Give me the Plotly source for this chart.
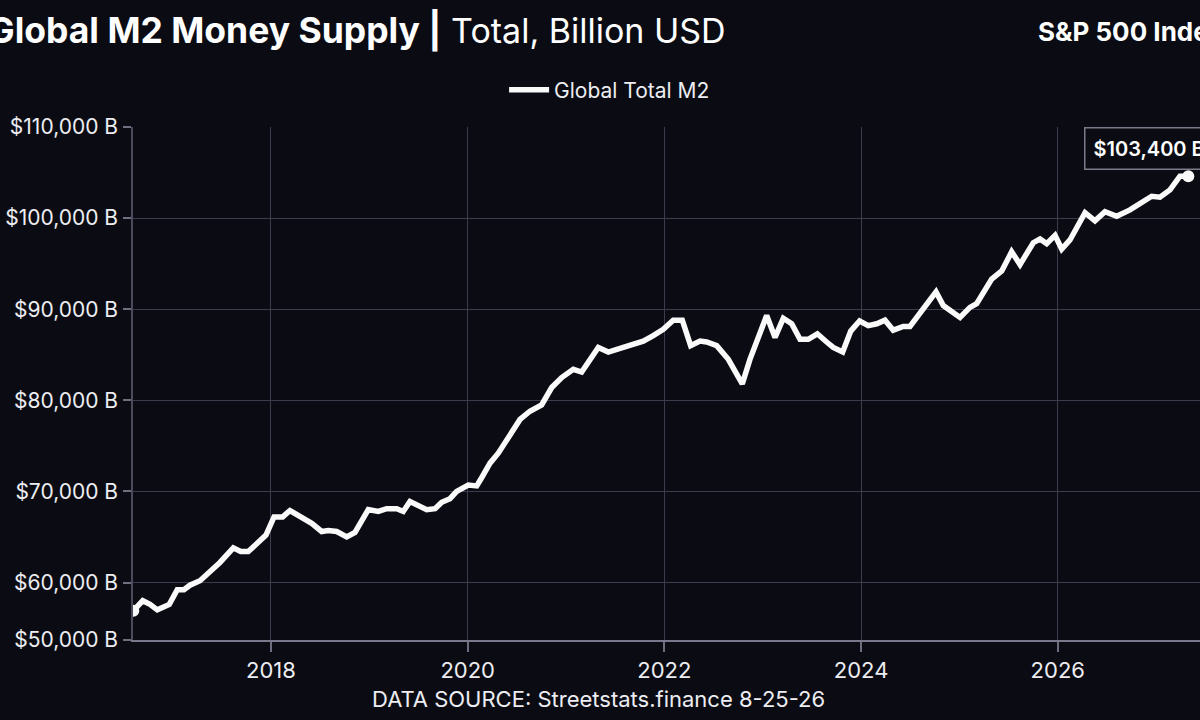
import plotly.graph_objects as go

# monthly readings, x as decimal years
years = [
    2016.600, 2016.696, 2016.770, 2016.844, 2016.966, 2017.047, 2017.115, 2017.176, 2017.278, 2017.380,
    2017.481, 2017.617, 2017.692, 2017.769, 2017.855, 2017.949, 2018.031, 2018.119, 2018.193, 2018.295,
    2018.414, 2018.516, 2018.583, 2018.668, 2018.770, 2018.854, 2018.989, 2019.091, 2019.176, 2019.278,
    2019.345, 2019.413, 2019.498, 2019.583, 2019.668, 2019.736, 2019.820, 2019.888, 2020.006, 2020.092,
    2020.142, 2020.227, 2020.311, 2020.413, 2020.532, 2020.633, 2020.752, 2020.854, 2020.956, 2021.074,
    2021.159, 2021.328, 2021.430, 2021.582, 2021.701, 2021.785, 2021.887, 2021.989, 2022.090, 2022.182,
    2022.267, 2022.362, 2022.430, 2022.532, 2022.650, 2022.718, 2022.792, 2022.870, 2023.040, 2023.125,
    2023.209, 2023.294, 2023.379, 2023.463, 2023.555, 2023.650, 2023.717, 2023.813, 2023.895, 2023.985,
    2024.073, 2024.159, 2024.243, 2024.327, 2024.429, 2024.497, 2024.632, 2024.762, 2024.836, 2025.006,
    2025.107, 2025.175, 2025.328, 2025.430, 2025.531, 2025.616, 2025.751, 2025.819, 2025.887, 2025.972,
    2026.040, 2026.124, 2026.277, 2026.378, 2026.480, 2026.599, 2026.734, 2026.853, 2026.955, 2027.039,
    2027.141, 2027.242, 2027.327,
]

m2_billion = [
    56900, 58000, 57600, 57000, 57600, 59200, 59200, 59700, 60200, 61200,
    62200, 63800, 63400, 63400, 64300, 65200, 67200, 67200, 67900, 67200,
    66500, 65600, 65700, 65600, 65000, 65500, 68000, 67800, 68100, 68100,
    67800, 68900, 68500, 68000, 68100, 68800, 69200, 70000, 70700, 70600,
    71500, 73100, 74200, 75900, 77900, 78800, 79500, 81400, 82500, 83400,
    83100, 85800, 85300, 85800, 86300, 86500, 87100, 87800, 88800, 88800,
    86000, 86500, 86400, 86000, 84500, 83300, 81800, 84500, 89300, 86900,
    89000, 88400, 86700, 86700, 87300, 86400, 85800, 85300, 87600, 88700,
    88200, 88400, 88800, 87700, 88100, 88100, 90100, 91900, 90400, 89100,
    90200, 90600, 93300, 94200, 96300, 94900, 97300, 97700, 97200, 98100,
    96600, 97600, 100600, 99700, 100700, 100200, 100900, 101700, 102400, 102300,
    103100, 104600, 104600,
]

# y ticks as printed on the source (bottom gap is compressed there)
ytick_vals = [53700, 60000, 70000, 80000, 90000, 100000, 110000]
ytick_text = ["$50,000 B", "$60,000 B", "$70,000 B", "$80,000 B",
              "$90,000 B", "$100,000 B", "$110,000 B"]
xtick_vals = [2018, 2020, 2022, 2024, 2026]

last_label = "$103,400 B"

BG = "#0b0c13"
GRID = "#3d3c4c"
TXT = "#ededf2"
FONT = "Inter, Roboto, Liberation Sans, sans-serif"

fig = go.Figure()

fig.add_trace(go.Scatter(
    x=years, y=m2_billion, mode="lines", name="Global Total M2",
    line=dict(color="#fafafa", width=5.5),
))
fig.add_trace(go.Scatter(
    x=[years[0], years[-1]], y=[m2_billion[0], m2_billion[-1]],
    mode="markers", showlegend=False,
    marker=dict(color="#fafafa", size=12),
))

fig.update_layout(
    width=1200, height=720,
    paper_bgcolor=BG, plot_bgcolor=BG,
    margin=dict(l=133, r=0, t=127, b=80),
    font=dict(family=FONT, color=TXT, size=20),
    legend=dict(
        orientation="h", xref="container", x=0.508, xanchor="center",
        yref="container", y=0.875, yanchor="middle",
        font=dict(size=21, color=TXT), bgcolor="rgba(0,0,0,0)",
        itemwidth=40,
    ),
    hovermode=False,
)

fig.update_xaxes(
    range=[2016.597, 2027.446],
    tickvals=xtick_vals, tickformat="d",
    showgrid=True, gridcolor=GRID, gridwidth=1,
    showline=True, linecolor="#7a788c", linewidth=2,
    ticks="outside", ticklen=10, tickcolor="#6f6d80", tickwidth=1.5,
    tickfont=dict(size=22, color=TXT),
    zeroline=False,
)
fig.update_yaxes(
    range=[53690, 110000],
    tickvals=ytick_vals, ticktext=ytick_text,
    showgrid=True, gridcolor=GRID, gridwidth=1,
    showline=True, linecolor="#4c4b5c", linewidth=1.5,
    ticks="outside", ticklen=8, tickcolor="#6f6d80", tickwidth=1.5,
    tickfont=dict(size=21, color=TXT),
    ticklabelstandoff=1,
    zeroline=False,
)

# title, partly cut by the left edge as in the source
fig.add_annotation(
    xref="paper", yref="paper", x=-0.1378, y=1.189,
    xanchor="left", yanchor="middle", showarrow=False,
    text="<span style='font-size:35.5px'><b>Global M2 Money Supply |</b></span> Total, Billion USD",
    font=dict(size=34, color="#ffffff"),
)
fig.add_annotation(
    xref="paper", yref="paper", x=0.846, y=1.187,
    xanchor="left", yanchor="middle", showarrow=False,
    text="<b>S&P 500 Index</b>",
    font=dict(size=26, color="#ffffff"),
)
fig.add_annotation(
    xref="paper", yref="paper", x=0.436, y=-0.115,
    xanchor="center", yanchor="middle", showarrow=False,
    text="DATA SOURCE: Streetstats.finance 8-25-26",
    font=dict(size=22, color=TXT),
)
fig.add_annotation(
    x=years[-1], y=m2_billion[-1], xref="x", yref="y",
    xanchor="left", yanchor="middle", xshift=-104, yshift=28,
    showarrow=False, text=last_label,
    font=dict(size=20, color="#ffffff", weight=600),
    bordercolor="#7b7a8a", borderwidth=1.5, borderpad=8, bgcolor=BG,
)

# page body has a default 8px margin; drop it so the figure sits at 0,0
fig.write_html("out.html", config={"displayModeBar": False},
               post_script="document.body.style.margin='0';")
